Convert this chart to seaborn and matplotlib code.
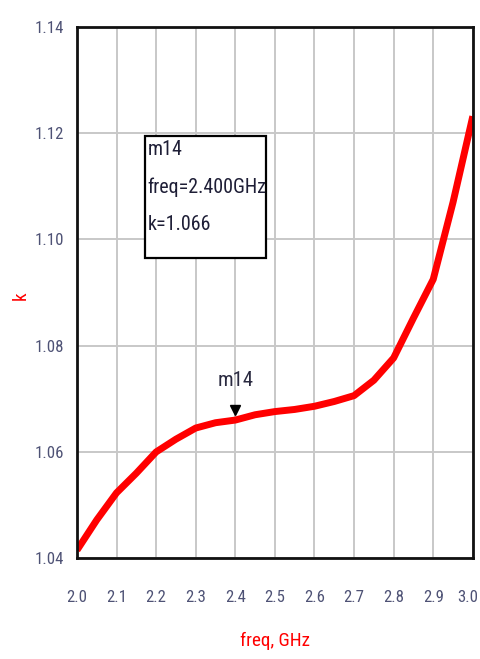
import matplotlib
matplotlib.use("Agg")
import matplotlib.pyplot as plt
import matplotlib.transforms as mtransforms
from matplotlib import font_manager
from matplotlib.patches import Rectangle
from matplotlib.ticker import MultipleLocator
import pandas as pd
import seaborn as sns

# Stability factor k versus frequency
freq_ghz = [2.0, 2.05, 2.1, 2.15, 2.2, 2.25, 2.3, 2.35, 2.4, 2.45, 2.5,
            2.55, 2.6, 2.65, 2.7, 2.75, 2.8, 2.85, 2.9, 2.95, 3.0]
k_values = [1.0415, 1.0472, 1.0523, 1.0560, 1.0600, 1.0624, 1.0645, 1.0655,
            1.0660, 1.0670, 1.0676, 1.0680, 1.0686, 1.0695, 1.0706, 1.0735,
            1.0777, 1.0852, 1.0925, 1.1070, 1.1232]

marker_name = "m14"
marker_freq = 2.4
marker_k = 1.066

x_ticks = [2.0, 2.1, 2.2, 2.3, 2.4, 2.5, 2.6, 2.7, 2.8, 2.9, 3.0]
y_ticks = [1.04, 1.06, 1.08, 1.10, 1.12, 1.14]

df = pd.DataFrame({"freq": freq_ghz, "k": k_values})

sns.set_style("white")

# Prefer a narrow sans face when one is installed
installed = {f.name for f in font_manager.fontManager.ttflist}
narrow = None
for name in ["Liberation Sans Narrow", "DejaVu Sans Condensed", "Roboto Condensed"]:
    if name in installed:
        narrow = name
        break
base_family = [narrow] if narrow else ["Liberation Sans"]
plt.rcParams["font.family"] = base_family + ["DejaVu Sans"]
size_boost = 1.15 if narrow else 1.0

fig = plt.figure(figsize=(4.81, 6.59), dpi=100)
ax = fig.add_axes([0.160, 0.153, 0.823, 0.806])

ax.grid(True, which="major", color="#c8c8c8", linewidth=1.4)
ax.set_axisbelow(True)

sns.lineplot(data=df, x="freq", y="k", ax=ax, color="#ff0000",
             linewidth=5.0, solid_capstyle="butt", legend=False)

ax.set_xlim(2.0, 3.0)
ax.set_ylim(1.04, 1.14)
ax.set_xticks(x_ticks)
ax.set_xticklabels([f"{v:.1f}" for v in x_ticks])
ax.set_yticks(y_ticks)
ax.set_yticklabels([f"{v:.2f}" for v in y_ticks])
ax.xaxis.set_minor_locator(MultipleLocator(0.05))
ax.yaxis.set_minor_locator(MultipleLocator(0.01))

label_color = "#4e5275"
tick_size = 10.5 * size_boost
ax.tick_params(axis="x", which="major", direction="out", length=9, width=1.6,
               color="black", labelsize=tick_size, labelcolor=label_color, pad=14)
ax.tick_params(axis="x", which="minor", direction="out", length=5, width=1.4,
               color="black")
ax.tick_params(axis="y", which="major", direction="out", length=7, width=1.8,
               color="black", labelsize=tick_size, labelcolor=label_color, pad=2)
ax.tick_params(axis="y", which="minor", direction="out", length=3, width=1.8,
               color="black")

# Keep the last frequency label inside the canvas
last_label = ax.get_xticklabels()[-1]
last_label.set_horizontalalignment("right")
last_label.set_transform(last_label.get_transform() +
                         mtransforms.ScaledTranslation(4 / 72, 0, fig.dpi_scale_trans))

for side in ["left", "right", "top", "bottom"]:
    ax.spines[side].set_visible(True)
    ax.spines[side].set_color("#111111")
    ax.spines[side].set_linewidth(2.0)

ax.set_xlabel("freq, GHz", color="#ff0000", fontsize=12 * size_boost)
ax.xaxis.set_label_coords(0.5, -0.139)
ax.set_ylabel("k", color="#ff0000", fontsize=12 * size_boost)
ax.yaxis.set_label_coords(-0.118, 0.495)

# Marker triangle sitting on top of the trace
offset = mtransforms.ScaledTranslation(0, 7 / 72, fig.dpi_scale_trans)
ax.plot([marker_freq], [marker_k], marker="v", markersize=7, color="black",
        linestyle="none", transform=ax.transData + offset, zorder=5)
ax.annotate(marker_name, xy=(marker_freq, marker_k), xytext=(0, 22),
            textcoords="offset points", ha="center", va="bottom",
            fontsize=13 * size_boost, color="#2a2a40")

# Marker readout box
box = Rectangle((0.172, 0.565), 0.306, 0.230, transform=ax.transAxes,
                facecolor="white", edgecolor="black", linewidth=1.6, zorder=4)
ax.add_patch(box)
readout = f"{marker_name}\nfreq={marker_freq:.3f}GHz\nk={marker_k:.3f}"
ax.text(0.178, 0.787, readout, transform=ax.transAxes, ha="left", va="top",
        fontsize=12.5 * size_boost, color="#1e1e36", linespacing=2.2, zorder=5)

fig.savefig("out.png", dpi=100)
